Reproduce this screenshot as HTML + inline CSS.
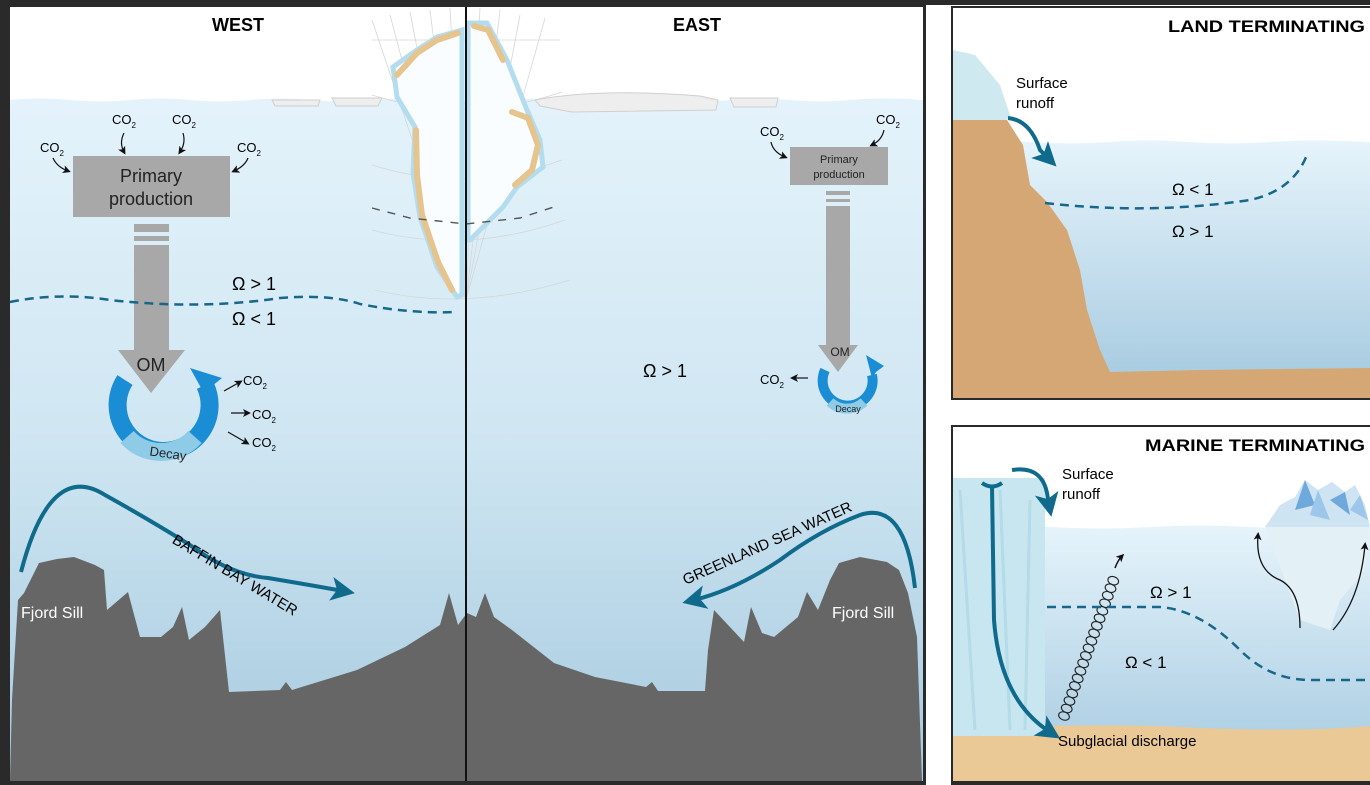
<!DOCTYPE html>
<html><head><meta charset="utf-8"><style>
html,body{margin:0;padding:0;background:#fff;}
svg{display:block;font-family:"Liberation Sans",sans-serif;}
</style></head><body>
<svg width="1370" height="785" viewBox="0 0 1370 785" xmlns="http://www.w3.org/2000/svg">
<defs>
<linearGradient id="w" x1="0" y1="0" x2="0" y2="1">
<stop offset="0" stop-color="#e4f3fb"/><stop offset="0.5" stop-color="#cfe6f2"/><stop offset="1" stop-color="#a6cadf"/>
</linearGradient>
<linearGradient id="w2" x1="0" y1="0" x2="0" y2="1">
<stop offset="0" stop-color="#e6f4fb"/><stop offset="1" stop-color="#a3c8df"/>
</linearGradient>
<marker id="ab" markerWidth="6" markerHeight="6" refX="3" refY="3" orient="auto" markerUnits="strokeWidth"><path d="M0,0 L6,3 L0,6 L1.5,3z" fill="#0f6a8c"/></marker>
<marker id="ak" markerWidth="8" markerHeight="8" refX="5" refY="4" orient="auto" markerUnits="userSpaceOnUse"><path d="M0,0 L8,4 L0,8 L2,4z" fill="#111"/></marker>
</defs>
<rect x="0" y="0" width="1370" height="785" fill="#fff"/>
<rect x="0" y="0" width="1370" height="5" fill="#2a2a2a"/>
<rect x="0" y="0" width="926" height="785" fill="#2a2a2a"/>
<rect x="10" y="7" width="913" height="774" fill="#fff"/>
<path d="M10,100 Q40,97 70,100 T130,100 T190,100 T250,100 T310,100 T370,100 T430,100 T490,100 T550,100 T610,100 T670,100 T730,100 T790,100 T850,100 T923,100 L923,781 L10,781Z" fill="url(#w)"/>
<g stroke="#d6d6d6" stroke-width="0.8" fill="none">
<path d="M372,20 L466,300 M390,15 L466,300 M410,12 L466,300 M430,10 L466,300 M450,8 L466,300 M480,8 L466,300 M500,10 L466,300 M520,15 L466,300 M545,18 L466,300"/>
<path d="M372,40 L560,40 M372,95 Q466,125 562,92 M372,165 Q466,195 562,160 M372,230 Q466,255 565,220 M375,290 Q466,312 570,280"/>
</g>
<g fill="#eeeeee" stroke="#cfcfcf" stroke-width="1">
<path d="M272,100 L320,100 L318,106 L275,106Z"/>
<path d="M332,98 L382,98 L378,106 L336,106Z"/>
<path d="M535,100 Q600,88 700,96 L718,100 L716,110 L572,112 L540,106Z"/>
<path d="M730,98 L778,98 L776,107 L734,107Z"/>
</g>
<g stroke="#b4dcef" stroke-width="5" fill="#fafdff">
<path d="M393,67 L417,50 L437,37 L462,30 L462,295 L457,297 L437,267 L420,217 L413,173 L415,127 L397,97Z"/>
<path d="M468,23 L487,23 L507,60 L527,110 L540,140 L543,167 L517,187 L503,207 L483,227 L470,240 L468,240Z"/>
</g>
<g stroke="#e6c48e" stroke-width="6" fill="none" stroke-linecap="round">
<path d="M397,75 L417,53 L437,40 L458,33"/>
<path d="M416,130 L417,175 L422,215 L438,262 L452,290"/>
<path d="M474,26 L488,30 L503,60"/>
<path d="M512,112 L528,118 L538,145 L532,170 L515,185"/>
</g>
<path d="M372,208 L410,218 L466,224 L520,218 L560,205" stroke="#555" stroke-width="1.4" stroke-dasharray="8,8" fill="none"/>
<line x1="466" y1="7" x2="466" y2="781" stroke="#111" stroke-width="2"/>
<text x="238" y="31" font-size="18" font-weight="bold" text-anchor="middle">WEST</text>
<text x="697" y="31" font-size="18" font-weight="bold" text-anchor="middle">EAST</text>
<g font-size="13">
<text x="40" y="152">CO<tspan font-size="8" dy="4">2</tspan></text>
<text x="112" y="124">CO<tspan font-size="8" dy="4">2</tspan></text>
<text x="172" y="124">CO<tspan font-size="8" dy="4">2</tspan></text>
<text x="237" y="152">CO<tspan font-size="8" dy="4">2</tspan></text>
</g>
<g stroke="#111" stroke-width="1.2" fill="none">
<path d="M53,158 Q57,167 68,171" marker-end="url(#ak)"/>
<path d="M124,133 Q119,143 124,152" marker-end="url(#ak)"/>
<path d="M183,133 Q186,143 180,152" marker-end="url(#ak)"/>
<path d="M248,158 Q245,166 234,171" marker-end="url(#ak)"/>
</g>
<rect x="73" y="156" width="157" height="61" fill="#a8a8a8"/>
<text x="151" y="182" font-size="18" text-anchor="middle" fill="#222">Primary</text>
<text x="151" y="205" font-size="18" text-anchor="middle" fill="#222">production</text>
<rect x="134" y="224" width="35" height="8" fill="#a8a8a8"/>
<rect x="134" y="236" width="35" height="5" fill="#a8a8a8"/>
<rect x="134" y="245" width="35" height="105" fill="#a8a8a8"/>
<path d="M125,380 A46,46 0 1 0 205,385" stroke="#1b8dd4" stroke-width="18" fill="none"/>
<path d="M127,437 A46,46 0 0 0 195,437" stroke="#8ecbe6" stroke-width="18" fill="none"/>
<path d="M190,368 L222,378 L212,386 L205,395 Z" fill="#1b8dd4"/>
<polygon points="118,350 185,350 151,393" fill="#a8a8a8"/>
<text x="151" y="371" font-size="18" text-anchor="middle" fill="#222">OM</text>
<text x="168" y="458" font-size="13" text-anchor="middle" fill="#222" transform="rotate(8 168 454)">Decay</text>
<g font-size="13">
<text x="243" y="385">CO<tspan font-size="8" dy="4">2</tspan></text>
<text x="252" y="419">CO<tspan font-size="8" dy="4">2</tspan></text>
<text x="252" y="447">CO<tspan font-size="8" dy="4">2</tspan></text>
</g>
<g stroke="#111" stroke-width="1.2">
<line x1="224" y1="391" x2="240" y2="382" marker-end="url(#ak)"/>
<line x1="231" y1="413" x2="248" y2="413" marker-end="url(#ak)"/>
<line x1="228" y1="432" x2="247" y2="443" marker-end="url(#ak)"/>
</g>
<path d="M10,302 Q60,292 110,300 Q200,310 280,298 Q330,294 360,304 Q410,314 456,312" stroke="#17678a" stroke-width="2.5" stroke-dasharray="9,6" fill="none"/>
<text x="232" y="290" font-size="18">Ω &gt; 1</text>
<text x="232" y="325" font-size="18">Ω &lt; 1</text>
<g font-size="13">
<text x="760" y="136">CO<tspan font-size="8" dy="4">2</tspan></text>
<text x="876" y="124">CO<tspan font-size="8" dy="4">2</tspan></text>
</g>
<g stroke="#111" stroke-width="1.2" fill="none">
<path d="M771,142 Q773,152 785,157" marker-end="url(#ak)"/>
<path d="M884,130 Q882,140 872,145" marker-end="url(#ak)"/>
</g>
<rect x="790" y="147" width="98" height="38" fill="#a8a8a8"/>
<text x="839" y="163" font-size="11" text-anchor="middle" fill="#222">Primary</text>
<text x="839" y="178" font-size="11" text-anchor="middle" fill="#222">production</text>
<rect x="826" y="191" width="24" height="4" fill="#a8a8a8"/>
<rect x="826" y="199" width="24" height="3" fill="#a8a8a8"/>
<rect x="826" y="206" width="24" height="140" fill="#a8a8a8"/>
<path d="M825,370 A25,25 0 1 0 872,375" stroke="#1b8dd4" stroke-width="10" fill="none"/>
<path d="M830,402 A25,25 0 0 0 864,402" stroke="#8ecbe6" stroke-width="10" fill="none"/>
<path d="M866,355 L884,366 L876,372 L872,378Z" fill="#1b8dd4"/>
<polygon points="818,345 858,345 838,372" fill="#a8a8a8"/>
<text x="840" y="356" font-size="12" text-anchor="middle" fill="#222">OM</text>
<text x="848" y="412" font-size="9" text-anchor="middle" fill="#222">Decay</text>
<text x="760" y="384" font-size="13">CO<tspan font-size="8" dy="4">2</tspan></text>
<line x1="808" y1="378" x2="793" y2="378" stroke="#111" stroke-width="1.2" marker-end="url(#ak)"/>
<text x="643" y="377" font-size="18">Ω &gt; 1</text>
<path d="M10,781 L12,700 L18,600 L24,593 L39,563 L57,559 L74,557 L95,565 L104,570 L107,610 L128,592 L140,637 L161,637 L173,627 L182,607 L189,640 L205,627 L220,610 L229,692 L280,690 L286,682 L292,690 L357,670 L405,647 L440,625 L449,593 L458,625 L467,613 L476,617 L485,593 L494,617 L512,630 L554,663 L595,677 L646,687 L652,682 L658,691 L705,691 L708,650 L714,610 L744,642 L751,607 L762,633 L774,637 L798,617 L807,592 L818,610 L830,580 L839,563 L860,557 L887,562 L899,570 L908,593 L917,637 L922,781 Z" fill="#666"/>
<line x1="466" y1="600" x2="466" y2="781" stroke="#111" stroke-width="2"/>
<text x="21" y="618" font-size="16" fill="#fff">Fjord Sill</text>
<text x="832" y="618" font-size="16" fill="#fff">Fjord Sill</text>
<path d="M21,572 Q50,460 105,495 Q150,520 190,545 Q230,575 268,578 Q310,585 343,591" stroke="#0f6a8c" stroke-width="4" fill="none" marker-end="url(#ab)"/>
<path d="M915,588 Q905,500 860,515 Q820,530 780,560 Q735,590 694,600" stroke="#0f6a8c" stroke-width="4" fill="none" marker-end="url(#ab)"/>
<text x="235" y="580" font-size="15" text-anchor="middle" transform="rotate(31 235 575)">BAFFIN BAY WATER</text>
<text x="768" y="548" font-size="15" text-anchor="middle" transform="rotate(-24 768 545)">GREENLAND SEA WATER</text>
<rect x="951" y="6" width="421" height="394" fill="#2a2a2a"/>
<rect x="953" y="8" width="419" height="390" fill="#fff"/>
<path d="M953,142 Q990,139 1030,142 T1110,142 T1190,142 T1270,142 T1370,142 L1370,398 L953,398Z" fill="url(#w2)"/>
<path d="M953,50 L975,55 L1000,85 L1010,115 L1005,122 L953,122Z" fill="#cfe9f1"/>
<path d="M953,120 L1007,120 L1023,145 L1030,185 L1047,202 L1067,230 L1080,270 L1087,310 L1100,350 L1110,372 L1200,370 L1370,368 L1370,398 L953,398Z" fill="#d5a774"/>
<text x="1168" y="32" font-size="17" font-weight="bold" textLength="197" lengthAdjust="spacingAndGlyphs">LAND TERMINATING</text>
<text x="1016" y="88" font-size="15">Surface</text>
<text x="1016" y="108" font-size="15">runoff</text>
<path d="M1008,118 Q1030,120 1040,150 L1048,158" stroke="#0f6a8c" stroke-width="4" fill="none" marker-end="url(#ab)"/>
<path d="M1045,203 Q1150,215 1250,200 Q1295,190 1308,152" stroke="#17678a" stroke-width="2.5" stroke-dasharray="9,6" fill="none"/>
<text x="1172" y="195" font-size="17">Ω &lt; 1</text>
<text x="1172" y="237" font-size="17">Ω &gt; 1</text>
<rect x="951" y="425" width="421" height="360" fill="#2a2a2a"/>
<rect x="953" y="427" width="419" height="354" fill="#fff"/>
<path d="M953,527 Q1000,524 1050,527 T1150,527 T1250,527 T1370,527 L1370,781 L953,781Z" fill="url(#w2)"/>
<path d="M953,730 Q1100,722 1200,728 Q1300,732 1370,726 L1370,781 L953,781Z" fill="#ebc996"/>
<rect x="953" y="478" width="92" height="258" fill="#c8e6ef"/>
<path d="M960,490 L975,730 M1000,490 L1010,730 M1030,500 L1025,730" stroke="#b3dbe8" stroke-width="3"/>
<path d="M1265,527 L1370,527 L1365,570 L1340,600 L1330,630 L1300,620 L1285,580 Z" fill="#e3f0f6"/>
<path d="M1265,527 L1280,505 L1295,497 L1305,480 L1318,490 L1332,482 L1345,492 L1355,485 L1365,505 L1370,527 Z" fill="#cfe4f3"/>
<path d="M1295,510 L1305,480 L1315,505Z M1330,500 L1345,492 L1350,515Z" fill="#6fa9dc"/>
<path d="M1310,515 L1318,490 L1330,520Z M1350,510 L1360,495 L1368,520Z" fill="#9cc6ea"/>
<text x="1145" y="451" font-size="17" font-weight="bold" textLength="220" lengthAdjust="spacingAndGlyphs">MARINE TERMINATING</text>
<text x="1062" y="479" font-size="15">Surface</text>
<text x="1062" y="499" font-size="15">runoff</text>
<path d="M1012,470 Q1045,465 1048,500 L1049,505" stroke="#0f6a8c" stroke-width="4" fill="none" marker-end="url(#ab)"/>
<path d="M982,483 Q992,490 1002,483" stroke="#0f6a8c" stroke-width="4" fill="none"/>
<path d="M992,486 L994,620 Q1000,700 1050,732" stroke="#0f6a8c" stroke-width="4" fill="none" marker-end="url(#ab)"/>
<text x="1058" y="746" font-size="15">Subglacial discharge</text>
<g transform="translate(1064,716) rotate(-70)" fill="none" stroke="#222" stroke-width="1.1">
<ellipse cx="0" cy="0" rx="4" ry="5.5"/><ellipse cx="8" cy="0" rx="4" ry="5.5"/><ellipse cx="16" cy="0" rx="4" ry="5.5"/><ellipse cx="24" cy="0" rx="4" ry="5.5"/><ellipse cx="32" cy="0" rx="4" ry="5.5"/><ellipse cx="40" cy="0" rx="4" ry="5.5"/><ellipse cx="48" cy="0" rx="4" ry="5.5"/><ellipse cx="56" cy="0" rx="4" ry="5.5"/><ellipse cx="64" cy="0" rx="4" ry="5.5"/><ellipse cx="72" cy="0" rx="4" ry="5.5"/><ellipse cx="80" cy="0" rx="4" ry="5.5"/><ellipse cx="88" cy="0" rx="4" ry="5.5"/><ellipse cx="96" cy="0" rx="4" ry="5.5"/><ellipse cx="104" cy="0" rx="4" ry="5.5"/><ellipse cx="112" cy="0" rx="4" ry="5.5"/><ellipse cx="120" cy="0" rx="4" ry="5.5"/><ellipse cx="128" cy="0" rx="4" ry="5.5"/><ellipse cx="136" cy="0" rx="4" ry="5.5"/><ellipse cx="144" cy="0" rx="4" ry="5.5"/>
</g>
<path d="M1115,568 Q1118,560 1122,556" stroke="#111" stroke-width="1.5" fill="none" marker-end="url(#ak)"/>
<path d="M1047,607 L1160,607 Q1200,610 1240,650 Q1270,680 1310,680 L1370,680" stroke="#17678a" stroke-width="2.5" stroke-dasharray="9,6" fill="none"/>
<text x="1150" y="598" font-size="17">Ω &gt; 1</text>
<text x="1125" y="668" font-size="17">Ω &lt; 1</text>
<path d="M1300,628 Q1300,590 1280,580 Q1255,570 1258,535" stroke="#111" stroke-width="1.3" fill="none" marker-end="url(#ak)"/>
<path d="M1333,630 Q1360,600 1365,545" stroke="#111" stroke-width="1.3" fill="none" marker-end="url(#ak)"/>
</svg>
</body></html>
